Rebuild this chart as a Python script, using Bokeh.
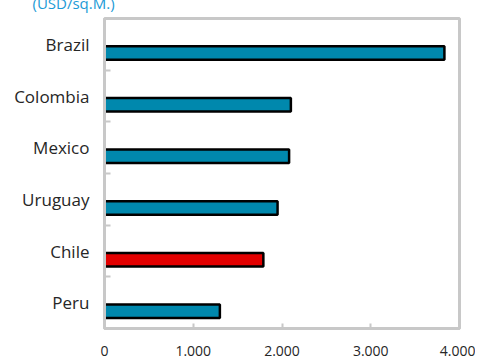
from bokeh.plotting import figure
from bokeh.models import ColumnDataSource, FixedTicker, Range1d, Title
from bokeh.embed import file_html
from bokeh.resources import INLINE

# data (bottom to top)
countries = ["Peru", "Chile", "Uruguay", "Mexico", "Colombia", "Brazil"]
values = [1300, 1790, 1950, 2080, 2100, 3830]
colors = ["#0088AD", "#E30000", "#0088AD", "#0088AD", "#0088AD", "#0088AD"]
x_ticks = [0, 1000, 2000, 3000, 4000]
x_tick_labels = ["0", "1.000", "2.000", "3.000", "4.000"]
unit_label = "(USD/sq.M.)"

n = len(countries)
centers = [i + 0.5 for i in range(n)]
bar_y = [c - 0.168 for c in centers]

src = ColumnDataSource(dict(y=bar_y, v=values, c=colors))

FONT = "Open Sans"
TXT = "#262626"
GRID = "#C8C8C8"

p = figure(width=467, height=374, output_backend="svg", toolbar_location=None,
           x_range=Range1d(0, 4000), y_range=Range1d(0, n),
           min_border_left=96, min_border_right=16, min_border_top=34,
           min_border_bottom=30)
p.margin = (-16, 0, 0, 8)

p.hbar(y="y", right="v", left=0, height=0.262, source=src, fill_color="c",
       line_color="black", line_width=2.5)

p.grid.visible = False
p.outline_line_color = GRID
p.outline_line_width = 3

# x axis
xa = p.xaxis[0]
xa.ticker = FixedTicker(ticks=x_ticks)
xa.major_label_overrides = {t: l for t, l in zip(x_ticks, x_tick_labels)}
xa.major_tick_in = 5
xa.major_tick_out = 0
xa.major_tick_line_color = GRID
xa.major_tick_line_width = 2
xa.minor_tick_line_color = None
xa.axis_line_color = GRID
xa.axis_line_width = 3
xa.major_label_standoff = 17
xa.major_label_text_font = FONT
xa.major_label_text_font_size = "14px"
xa.major_label_text_color = TXT

# y axis
ya = p.yaxis[0]
ya.ticker = FixedTicker(ticks=centers, minor_ticks=[float(i) for i in range(1, n)])
ya.major_label_overrides = {c: name for c, name in zip(centers, countries)}
ya.major_tick_line_color = None
ya.minor_tick_in = 6
ya.minor_tick_out = 0
ya.minor_tick_line_color = GRID
ya.minor_tick_line_width = 2
ya.axis_line_color = GRID
ya.axis_line_width = 3
ya.major_label_standoff = 9
ya.major_label_text_font = FONT
ya.major_label_text_font_size = "17px"
ya.major_label_text_color = TXT

t = Title(text=unit_label, align="left", text_font=FONT, text_font_size="15px",
          text_color="#1B9AD6", text_font_style="normal", offset=-72, standoff=11)
p.add_layout(t, "above")

open("out.html", "w").write(file_html(p, INLINE))
